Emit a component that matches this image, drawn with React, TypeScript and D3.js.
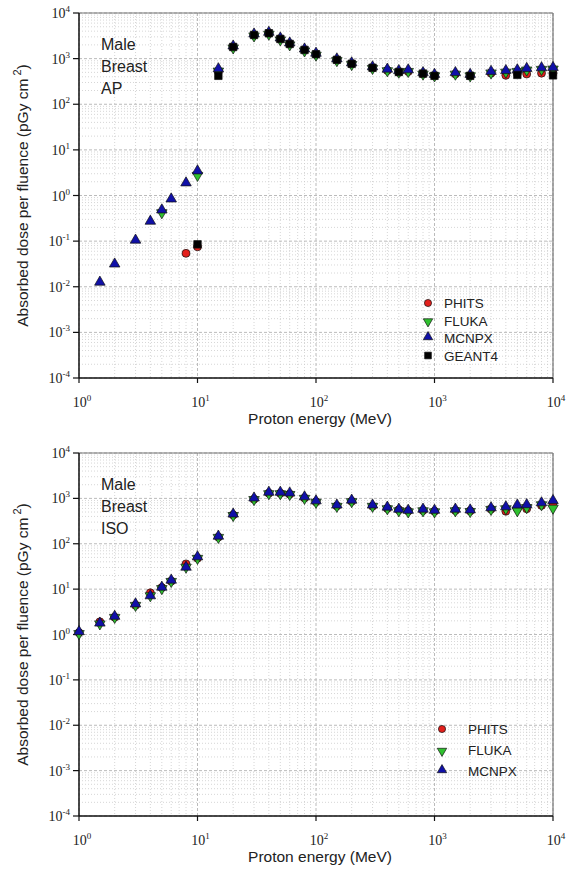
import React from "react";
import * as d3 from "d3";

// ---- data ----
const apMcnpxE = [1.5, 2, 3, 4, 5, 6, 8, 10, 15, 20, 30, 40, 50, 60, 80, 100, 150, 200, 300, 400, 500, 600, 800, 1000, 1500, 2000, 3000, 4000, 5000, 6000, 8000, 10000];
const apMcnpx = [0.012, 0.03, 0.1, 0.26, 0.46, 0.8, 1.8, 3.3, 570, 1800, 3300, 3600, 2700, 2100, 1550, 1250, 940, 770, 630, 560, 520, 540, 470, 430, 470, 430, 500, 520, 540, 580, 600, 610];
const apPhitsE = [8, 10, 15, 20, 30, 40, 50, 60, 80, 100, 150, 200, 300, 400, 500, 600, 800, 1000, 1500, 2000, 3000, 4000, 5000, 6000, 8000, 10000];
const apPhits = [0.054, 0.075, 520, 1800, 3300, 3600, 2700, 2100, 1550, 1250, 930, 770, 620, 550, 500, 520, 460, 420, 460, 420, 480, 430, 470, 460, 480, 480];
const apFlukaE = [5, 10, 15, 20, 30, 40, 50, 60, 80, 100, 150, 200, 300, 400, 500, 600, 800, 1000, 1500, 2000, 3000, 4000, 5000, 6000, 8000, 10000];
const apFluka = [0.44, 2.9, 560, 1800, 3300, 3600, 2700, 2100, 1550, 1250, 950, 780, 640, 570, 530, 550, 480, 440, 480, 440, 510, 530, 550, 590, 610, 620];
const apGeantE = [10, 15, 20, 30, 40, 50, 60, 80, 100, 150, 200, 300, 500, 800, 1000, 2000, 5000, 10000];
const apGeant = [0.085, 420, 1800, 3300, 3600, 2700, 2100, 1550, 1250, 940, 770, 630, 510, 470, 420, 420, 440, 430];

const isoE = [1, 1.5, 2, 3, 4, 5, 6, 8, 10, 15, 20, 30, 40, 50, 60, 80, 100, 150, 200, 300, 400, 500, 600, 800, 1000, 1500, 2000, 3000, 4000, 5000, 6000, 8000, 10000];
const isoPhits = [1.1, 1.9, 2.4, 4.4, 8.3, 10.8, 15, 36, 48, 140, 430, 960, 1300, 1290, 1240, 1020, 840, 680, 860, 670, 600, 560, 530, 540, 520, 540, 530, 580, 520, 600, 590, 700, 780];
const isoFluka = [1.1, 1.8, 2.5, 4.6, 7.5, 10.8, 15.5, 32, 50, 145, 440, 990, 1330, 1330, 1280, 1050, 860, 700, 890, 700, 620, 560, 530, 560, 530, 560, 540, 600, 620, 560, 660, 760, 640];
const isoMcnpx = [1.1, 1.7, 2.4, 4.5, 6.8, 10.5, 15, 29, 49, 140, 430, 970, 1300, 1300, 1250, 1030, 840, 680, 870, 680, 610, 550, 520, 550, 520, 550, 530, 590, 620, 680, 690, 760, 850];

const xDecades = [0, 1, 2, 3, 4];
const yDecades = [-4, -3, -2, -1, 0, 1, 2, 3, 4];

const styles: Record<string, { fill: string; shape: string }> = {
  PHITS: { fill: "#e3201c", shape: "circle" },
  FLUKA: { fill: "#2fc12f", shape: "down" },
  MCNPX: { fill: "#1010a8", shape: "up" },
  GEANT4: { fill: "#000000", shape: "square" },
};

const LEFT = 79;
const RIGHT = 553;
const sans = "'Liberation Sans', Arial, sans-serif";
const serif = "'Liberation Serif', 'Times New Roman', serif";

const markerPath = (shape: string, k: number) => {
  if (shape === "circle") return d3.symbol(d3.symbolCircle, 50 * k)()!;
  if (shape === "square") return d3.symbol(d3.symbolSquare, 56 * k)()!;
  return d3.symbol(d3.symbolTriangle, 48 * k)()!;
};

const Marker = ({ x, y, name, k = 1 }: { x: number; y: number; name: string; k?: number }) => {
  const s = styles[name];
  const rot = s.shape === "down" ? " rotate(180)" : "";
  const dy = s.shape === "up" ? -1 : s.shape === "down" ? 1 : 0;
  return (
    <path
      d={markerPath(s.shape, k)}
      transform={`translate(${x},${y + dy})${rot}`}
      fill={s.fill}
      stroke="#111"
      strokeWidth={0.7}
    />
  );
};

type Series = { name: string; e: number[]; v: number[] };

const Panel = ({
  top,
  bottom,
  label,
  series,
  legendX,
  legendY,
  legendGap,
  textOffset,
}: {
  top: number;
  bottom: number;
  label: string[];
  series: Series[];
  legendX: number;
  legendY: number;
  legendGap: number;
  textOffset: number;
}) => {
  const x = d3.scaleLog().domain([1, 1e4]).range([LEFT, RIGHT]);
  const y = d3.scaleLog().domain([1e-4, 1e4]).range([bottom, top]);

  const xMinor: number[] = [];
  xDecades.slice(0, -1).forEach((d) => {
    for (let k = 2; k <= 9; k++) xMinor.push(k * Math.pow(10, d));
  });
  const yMinor: number[] = [];
  yDecades.slice(0, -1).forEach((d) => {
    for (let k = 2; k <= 9; k++) yMinor.push(k * Math.pow(10, d));
  });

  return (
    <g>
      {/* grid */}
      {xMinor.map((v, i) => (
        <line key={"xm" + i} x1={x(v)} x2={x(v)} y1={top} y2={bottom} stroke="#cbcbcb" strokeWidth={0.8} strokeDasharray="1 2" />
      ))}
      {yMinor.map((v, i) => (
        <line key={"ym" + i} x1={LEFT} x2={RIGHT} y1={y(v)} y2={y(v)} stroke="#cbcbcb" strokeWidth={0.8} strokeDasharray="1 2" />
      ))}
      {xDecades.map((d) => (
        <line key={"xM" + d} x1={x(Math.pow(10, d))} x2={x(Math.pow(10, d))} y1={top} y2={bottom} stroke="#bbb" strokeWidth={1} strokeDasharray="3 2" />
      ))}
      {yDecades.map((d) => (
        <line key={"yM" + d} x1={LEFT} x2={RIGHT} y1={y(Math.pow(10, d))} y2={y(Math.pow(10, d))} stroke="#bbb" strokeWidth={1} strokeDasharray="3 2" />
      ))}

      {/* frame */}
      <line x1={LEFT} x2={RIGHT} y1={top} y2={top} stroke="#777" strokeWidth={1.2} />
      <line x1={RIGHT} x2={RIGHT} y1={top} y2={bottom} stroke="#777" strokeWidth={1.2} />
      <line x1={LEFT} x2={LEFT} y1={top} y2={bottom} stroke="#111" strokeWidth={1.5} />
      <line x1={LEFT} x2={RIGHT} y1={bottom} y2={bottom} stroke="#111" strokeWidth={1.5} />

      {/* ticks + labels */}
      {yDecades.map((d) => {
        const yy = y(Math.pow(10, d));
        return (
          <g key={"yt" + d}>
            <line x1={LEFT - 6} x2={LEFT} y1={yy} y2={yy} stroke="#111" strokeWidth={1.2} />
            <text x={LEFT - 9} y={yy + 5} textAnchor="end" fontFamily={serif} fontSize={14} fill="#222">
              10
              <tspan dy={-6} fontSize={9}>{d}</tspan>
            </text>
          </g>
        );
      })}
      {xDecades.map((d) => {
        const xx = x(Math.pow(10, d));
        return (
          <g key={"xt" + d}>
            <line x1={xx} x2={xx} y1={bottom} y2={bottom + 5} stroke="#111" strokeWidth={1.2} />
            <text x={xx + 3} y={bottom + 29} textAnchor="middle" fontFamily={serif} fontSize={14} fill="#222">
              10
              <tspan dy={-6} fontSize={9}>{d}</tspan>
            </text>
          </g>
        );
      })}
      <text x={(LEFT + RIGHT) / 2 + 4} y={bottom + 46} textAnchor="middle" fontFamily={sans} fontSize={15.5} fill="#222">
        Proton energy (MeV)
      </text>
      <text
        transform={`translate(28,${(top + bottom) / 2}) rotate(-90)`}
        textAnchor="middle"
        fontFamily={sans}
        fontSize={15.5}
        fill="#222"
      >
        Absorbed dose per fluence (pGy cm
        <tspan dy={-7} fontSize={11}> 2</tspan>
        <tspan dy={7}>)</tspan>
      </text>

      {/* annotation */}
      {label.map((t, i) => (
        <text key={t} x={LEFT + 22} y={top + 37 + i * 22} fontFamily={sans} fontSize={16} fill="#222">
          {t}
        </text>
      ))}

      {/* data */}
      {series.map((s) => (
        <g key={s.name}>
          {s.e.map((e, i) => (
            <Marker key={i} x={x(e)} y={y(s.v[i])} name={s.name} />
          ))}
        </g>
      ))}

      {/* legend */}
      {series.map((s, i) => (
        <g key={"lg" + s.name}>
          <Marker x={legendX} y={legendY + i * legendGap} name={s.name} k={0.8} />
          <text x={legendX + textOffset} y={legendY + i * legendGap + 5} fontFamily={sans} fontSize={13.5} fill="#222">
            {s.name}
          </text>
        </g>
      ))}
    </g>
  );
};

export default function App() {
  return (
    <svg width={567} height={879} style={{ position: "absolute", left: 0, top: 0, background: "#fff" }}>
      <Panel
        top={13}
        bottom={378}
        label={["Male", "Breast", "AP"]}
        series={[
          { name: "PHITS", e: apPhitsE, v: apPhits },
          { name: "FLUKA", e: apFlukaE, v: apFluka },
          { name: "MCNPX", e: apMcnpxE, v: apMcnpx },
          { name: "GEANT4", e: apGeantE, v: apGeant },
        ]}
        legendX={428}
        legendY={303}
        legendGap={17.5}
        textOffset={16}
      />
      <Panel
        top={453}
        bottom={816}
        label={["Male", "Breast", "ISO"]}
        series={[
          { name: "PHITS", e: isoE, v: isoPhits },
          { name: "FLUKA", e: isoE, v: isoFluka },
          { name: "MCNPX", e: isoE, v: isoMcnpx },
        ]}
        legendX={442}
        legendY={729}
        legendGap={21}
        textOffset={26}
      />
    </svg>
  );
}
